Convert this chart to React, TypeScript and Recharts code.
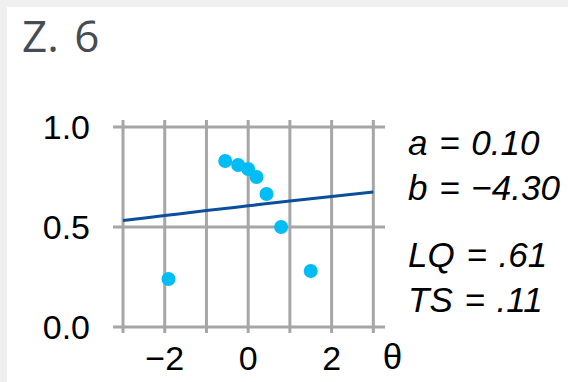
import React from "react";
import {
  ComposedChart,
  Line,
  Scatter,
  XAxis,
  YAxis,
  ZAxis,
  ReferenceLine,
} from "recharts";

// observed proportions correct per ability group
const groupTheta = [-1.91, -0.55, -0.24, 0.0, 0.2, 0.44, 0.79, 1.5];
const groupProp = [0.24, 0.83, 0.81, 0.79, 0.75, 0.665, 0.5, 0.28];

// fitted item characteristic curve (a = 0.10, b = -4.30)
const curveTheta = [-3, -2, -1, 0, 1, 2, 3];
const curveProb = [0.532, 0.557, 0.582, 0.606, 0.63, 0.653, 0.675];

const xTicks = [-3, -2, -1, 0, 1, 2, 3];
const yTicks = [0, 0.5, 1];

const statsTop = ["a = 0.10", "b = \u22124.30"];
const statsBottom = ["LQ = .61", "TS = .11"];

const W = 568;
const H = 382;
const FONT = "'Liberation Sans', Arial, sans-serif";
const GRID = "#a6a6a6";

const points = groupTheta.map((x, i) => ({ x, y: groupProp[i] }));
const curve = curveTheta.map((x, i) => ({ x, y: curveProb[i] }));

const fmtX = (v: number) =>
  v % 2 !== 0 ? "" : v < 0 ? `\u2212${Math.abs(v)}` : `${v}`;

export default function App() {
  return (
    <div
      style={{
        position: "absolute",
        left: 0,
        top: 0,
        width: W,
        height: H,
        background: "#efefef",
        overflow: "hidden",
      }}
    >
      <div
        style={{
          position: "absolute",
          left: 7,
          top: 7,
          width: W - 7,
          height: H - 7,
          background: "#ffffff",
        }}
      />
      <div style={{ position: "absolute", left: 0, top: 0 }}>
        <ComposedChart
          width={W}
          height={H}
          margin={{ top: 120, right: 183, bottom: 9, left: 13 }}
        >
          <XAxis
            type="number"
            dataKey="x"
            domain={[-3.24, 3.28]}
            ticks={xTicks}
            tickFormatter={fmtX}
            axisLine={false}
            tickLine={false}
            tickSize={0}
            tickMargin={13}
            height={40}
            interval={0}
            tick={{ fontSize: 34, fill: "#000", fontFamily: FONT }}
          />
          <YAxis
            type="number"
            dataKey="y"
            domain={[-0.03, 1.035]}
            ticks={yTicks}
            tickFormatter={(v: number) => v.toFixed(1)}
            axisLine={false}
            tickLine={false}
            tickSize={0}
            tickMargin={23}
            width={100}
            interval={0}
            tick={{ fontSize: 34, fill: "#000", fontFamily: FONT }}
          />
          <ZAxis range={[154, 154]} />
          {/* grid drawn only at the tick values, no frame */}
          {xTicks.map((t) => (
            <ReferenceLine key={`vx${t}`} x={t} stroke={GRID} strokeWidth={3} />
          ))}
          {yTicks.map((t) => (
            <ReferenceLine key={`hy${t}`} y={t} stroke={GRID} strokeWidth={3} />
          ))}
          <Line
            data={curve}
            dataKey="y"
            type="monotone"
            stroke="#0b4f9c"
            strokeWidth={3}
            dot={false}
            activeDot={false}
            isAnimationActive={false}
          />
          <Scatter
            data={points}
            dataKey="y"
            fill="#00bdf5"
            isAnimationActive={false}
          />
        </ComposedChart>
      </div>
      <svg
        width={W}
        height={H}
        style={{ position: "absolute", left: 0, top: 0, pointerEvents: "none" }}
      >
        <text
          x={22}
          y={51.5}
          fontSize={44}
          wordSpacing={4}
          fill="#464c54"
          fontFamily="'Open Sans', 'Noto Sans', sans-serif"
        >
          Z. 6
        </text>
        <text
          x={392.5}
          y={369}
          fontSize={35}
          fill="#000"
          textAnchor="middle"
          fontFamily={FONT}
        >
          θ
        </text>
        {statsTop.map((s, i) => (
          <text
            key={s}
            x={408}
            y={155 + i * 45}
            fontSize={35}
            wordSpacing={2}
            fontStyle="italic"
            fill="#000"
            fontFamily={FONT}
          >
            {s}
          </text>
        ))}
        {statsBottom.map((s, i) => (
          <text
            key={s}
            x={408}
            y={267 + i * 45}
            fontSize={35}
            wordSpacing={2}
            fontStyle="italic"
            fill="#000"
            fontFamily={FONT}
          >
            {s}
          </text>
        ))}
      </svg>
    </div>
  );
}
